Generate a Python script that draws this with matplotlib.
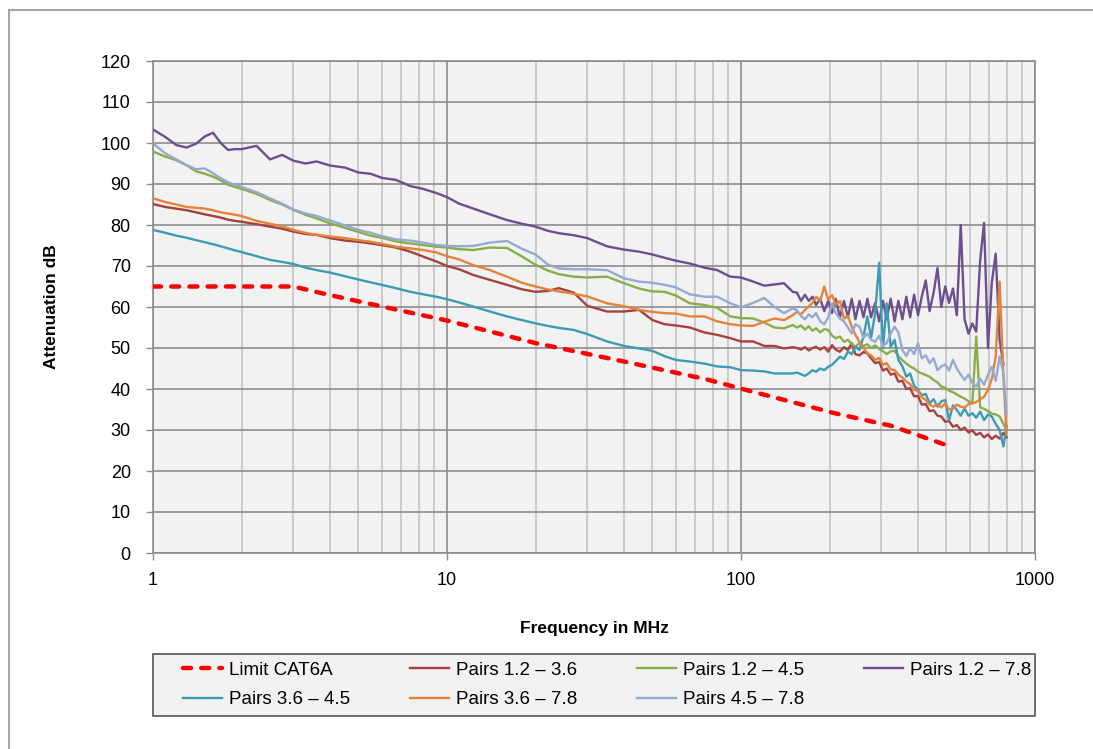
import numpy as np
import matplotlib
matplotlib.use("Agg")
import matplotlib.pyplot as plt
from matplotlib.patches import Rectangle

plt.rcParams["font.family"] = ["Liberation Sans", "DejaVu Sans"]

# ─── Data ────────────────────────────────────────────────────────────────────
# Shared sweep frequencies (MHz) for the measured pairs
freq_mhz = [
    1, 1.1, 1.2, 1.3, 1.4, 1.5, 1.6, 1.7, 1.8, 1.9, 2, 2.25, 2.5, 2.75, 3, 3.3,
    3.6, 4, 4.5, 5, 5.5, 6, 6.7, 7.5, 8.3, 9.2, 10, 11, 12.3, 14, 16, 18, 20,
    22, 24, 27, 30, 35, 40, 45, 50, 55, 60, 67, 75, 83, 92, 100, 110, 120, 130,
    140, 150,
    155, 160, 165, 170, 175, 180, 186, 192, 198, 204, 210, 217, 224, 231, 238,
    245, 253, 261, 269, 277, 286, 295, 304, 313, 323, 333, 343, 354, 365, 376,
    388, 400, 412, 425, 438, 452, 466, 480, 495, 510, 526, 542, 559, 576, 594,
    612, 631, 651, 671, 692, 713, 735, 758, 781, 800,
]

pairs_12_36 = [
    85.1, 84.4, 84.0, 83.6, 83.1, 82.6, 82.2, 81.8, 81.3, 81.0, 80.8, 80.2, 79.6,
    79.1, 78.4, 77.8, 77.6, 76.8, 76.2, 75.9, 75.5, 75.1, 74.5, 73.5, 72.3, 71.1,
    70.0, 69.2, 67.8, 66.6, 65.4, 64.3, 63.7, 63.9, 64.6, 63.5, 60.3, 58.9, 58.9,
    59.3, 56.8, 55.8, 55.5, 55.0, 53.8, 53.2, 52.4, 51.6, 51.6, 50.5, 50.5, 49.9,
    50.2,
    50.0, 49.6, 50.2, 49.4, 50.0, 50.3, 49.6, 50.2, 49.1, 50.7, 49.6, 49.1, 50.2,
    49.5, 51.2, 48.5, 48.2, 49.0, 48.7, 47.5, 46.3, 46.6, 44.5, 45.0, 43.5, 43.8,
    41.8, 42.0, 40.0, 40.2, 38.2, 38.3, 36.2, 36.3, 34.6, 34.8, 33.5, 33.3, 32.0,
    32.2, 30.8, 31.2, 30.0, 30.6, 29.4, 29.9, 28.8, 29.3, 28.2, 28.9, 27.8, 28.6,
    27.9, 29.3, 28.2,
]

pairs_12_45 = [
    97.9, 96.7, 95.8, 94.6, 93.1, 92.5, 91.8, 90.9, 89.8, 89.3, 88.8, 87.6, 86.1,
    85.0, 83.7, 82.5, 81.6, 80.4, 79.3, 78.3, 77.4, 76.9, 76.0, 75.5, 75.1, 74.7,
    74.5, 74.1, 73.9, 74.5, 74.4, 72.3, 70.3, 68.9, 68.0, 67.4, 67.2, 67.4, 65.8,
    64.5, 63.8, 63.7, 62.8, 60.9, 60.5, 59.8, 57.7, 57.3, 57.2, 56.2, 55.0, 54.8,
    55.6,
    55.0, 55.5, 54.5, 55.3, 54.2, 54.8, 53.8, 54.6, 54.4, 53.0, 52.4, 52.8, 51.5,
    52.0, 51.0, 50.3, 51.2, 50.5, 50.9, 50.0, 50.6, 49.8, 49.2, 48.5, 49.2, 49.3,
    48.0, 47.0, 46.2, 45.5, 45.0, 44.2, 43.8, 43.4, 43.0, 42.2, 41.6, 40.6, 40.3,
    39.6, 39.2, 38.7, 38.1, 37.7, 37.0, 36.5, 52.8, 35.5, 35.2, 34.6, 34.0, 33.8,
    33.3, 31.5, 30.0,
]

pairs_12_78 = [
    103.3, 101.5, 99.5, 98.9, 99.8, 101.6, 102.5, 100.0, 98.3, 98.5, 98.5, 99.3,
    96.0, 97.1, 95.7, 95.0, 95.5, 94.5, 94.0, 92.8, 92.5, 91.5, 91.0, 89.5, 88.8,
    87.8, 86.8, 85.2, 84.0, 82.6, 81.2, 80.3, 79.6, 78.6, 78.0, 77.5, 76.8, 74.8,
    74.0, 73.5, 72.8, 72.0, 71.3, 70.6, 69.6, 69.0, 67.4, 67.2, 66.2, 65.2, 65.5,
    65.8, 63.7,
    63.5, 61.5, 63.0, 61.5, 62.5, 60.5, 62.0, 59.0, 61.5, 58.5, 62.0, 57.5, 61.5,
    57.5, 62.0, 57.0, 61.5, 57.5, 62.0, 57.5, 61.0, 56.5, 61.5, 57.0, 62.0, 56.5,
    61.5, 57.0, 62.5, 57.5, 63.0, 58.0, 62.5, 66.5, 59.0, 63.5, 69.5, 60.0, 65.0,
    61.0, 64.5, 58.0, 80.0, 57.0, 53.5, 56.0, 54.0, 71.5, 80.5, 50.0, 66.0, 73.0,
    52.0, 46.0, np.nan,
]

pairs_36_45 = [
    78.8, 78.1, 77.4, 76.9, 76.3, 75.8, 75.3, 74.8, 74.3, 73.8, 73.4, 72.4, 71.5,
    71.0, 70.5, 69.6, 69.0, 68.4, 67.5, 66.7, 66.0, 65.4, 64.6, 63.7, 63.1, 62.5,
    61.9, 61.1, 60.1, 58.9, 57.7, 56.8, 56.0, 55.4, 54.9, 54.4, 53.4, 51.6, 50.5,
    49.9, 49.3, 48.0, 47.1, 46.7, 46.2, 45.5, 45.3, 44.6, 44.5, 44.3, 43.8, 43.8,
    43.8,
    44.0, 43.6, 43.2, 43.8, 44.6, 44.2, 45.0, 44.6, 45.4, 45.9, 46.8, 47.9, 47.3,
    49.1, 48.5, 50.3, 49.5, 52.8, 57.7, 52.5, 58.5, 70.8, 50.0, 60.9, 50.3, 52.0,
    47.1, 45.5, 43.0, 43.8, 40.8, 39.8, 38.5, 38.8, 36.5, 37.5, 35.7, 37.0, 37.3,
    32.4, 36.0, 34.9, 33.5, 35.2, 33.5, 34.1, 33.0, 34.5, 32.4, 33.8, 33.3, 31.5,
    30.0, 26.0, 31.0,
]

pairs_36_78 = [
    86.5, 85.6, 85.0, 84.4, 84.2, 84.0, 83.6, 83.1, 82.8, 82.5, 82.2, 81.0, 80.3,
    79.7, 78.8, 78.1, 77.6, 77.2, 76.8, 76.3, 75.9, 75.4, 74.7, 74.3, 73.9, 73.3,
    72.4, 71.6, 70.2, 69.0, 67.4, 65.9, 65.0, 64.3, 63.8, 63.2, 62.6, 60.9, 60.2,
    59.3, 58.8, 58.5, 58.4, 57.7, 57.7, 56.5, 55.8, 55.5, 55.4, 56.4, 57.2, 56.8,
    58.0,
    58.8, 58.2, 59.3, 60.2, 61.0, 62.5, 61.5, 65.0, 61.8, 62.9, 60.5, 61.5, 57.2,
    57.8, 55.2, 53.2, 51.5, 50.0, 48.7, 48.2, 47.1, 47.6, 45.9, 46.3, 44.8, 44.6,
    43.5, 42.8, 41.8, 41.2, 39.8, 39.5, 38.0, 37.3, 36.2, 35.7, 36.3, 35.5, 36.5,
    35.0, 35.3, 36.2, 35.7, 35.5, 36.3, 36.5, 36.8, 37.5, 38.1, 39.8, 42.5, 47.9,
    66.2, 43.0, 29.0,
]

pairs_45_78 = [
    99.9, 97.5, 96.0, 94.6, 93.6, 93.8, 92.6, 91.4, 90.4, 89.8, 89.3, 88.0, 86.5,
    85.2, 83.8, 82.8, 82.2, 81.1, 79.9, 78.8, 78.1, 77.3, 76.5, 76.2, 75.7, 75.1,
    74.9, 74.8, 74.9, 75.7, 76.1, 74.2, 72.8, 70.4, 69.4, 69.2, 69.2, 69.0, 67.0,
    66.2, 65.9, 65.4, 64.8, 63.1, 62.5, 62.5, 60.9, 59.9, 61.0, 62.2, 60.0, 58.5,
    59.7,
    59.2, 57.8, 57.0, 58.2, 57.5, 58.5, 56.5, 55.8, 57.5, 60.9, 58.5, 57.2, 56.5,
    55.0, 53.6, 55.8, 55.2, 52.5, 53.5, 52.0, 51.5, 53.0, 50.5, 51.2, 53.5, 55.2,
    53.8, 49.5, 48.0, 50.0, 48.5, 51.2, 47.5, 48.2, 46.3, 47.5, 44.6, 45.5, 46.0,
    44.5, 47.1, 45.0, 43.5, 42.2, 43.5, 41.5, 40.6, 42.5, 41.0, 43.5, 45.4, 42.0,
    47.9, 43.9, 34.0,
]

# CAT6A limit line
limit_freq = [1, 3, 4, 6.4, 10, 20, 40, 76, 100, 208, 325, 500]
limit_db = [65, 65, 62.9, 59.7, 56.7, 51.2, 46.7, 42.4, 40.1, 34.1, 31.0, 26.3]

series_labels = ["Pairs 1.2 – 3.6", "Pairs 1.2 – 4.5", "Pairs 1.2 – 7.8",
                 "Pairs 3.6 – 4.5", "Pairs 3.6 – 7.8", "Pairs 4.5 – 7.8"]
series_colors = ["#a5413f", "#8bad4a", "#6b4f8e", "#3d9bb5", "#e4843a", "#94aad0"]
series_values = [pairs_12_36, pairs_12_45, pairs_12_78,
                 pairs_36_45, pairs_36_78, pairs_45_78]

y_ticks = list(range(0, 121, 10))
x_ticks = [1, 10, 100, 1000]

# ─── Figure ──────────────────────────────────────────────────────────────────
W, H = 1093, 749
fig = plt.figure(figsize=(W / 100, H / 100), dpi=100)
# outer chart border (cut at the right and bottom in the original)
fig.patches.append(Rectangle((9 / W, -0.05), 1.2, 1.05 - 10 / H,
                             transform=fig.transFigure, fill=False,
                             edgecolor="#a6a6a6", linewidth=1.5))
# legend box
fig.patches.append(Rectangle((153 / W, 1 - 716 / H), 882 / W, 62 / H,
                             transform=fig.transFigure, facecolor="#f2f2f2",
                             edgecolor="#555555", linewidth=1.2))

ax = fig.add_axes([153 / W, 1 - 553 / H, 882 / W, 492 / H])
ax.set_facecolor("#f2f2f2")

lines = {}
lines["Limit CAT6A"], = ax.plot(limit_freq, limit_db, color="#ff0000", lw=3.2,
                                dashes=(1.8, 2.3), dash_capstyle="round",
                                solid_capstyle="round", zorder=3)
for label, vals, col in zip(series_labels, series_values, series_colors):
    lines[label], = ax.plot(freq_mhz, vals, color=col, lw=1.7, zorder=3)

ax.set_xscale("log")
ax.set_xlim(1, 1000)
ax.set_ylim(0, 120)
ax.set_xticks(x_ticks)
ax.set_xticklabels([str(t) for t in x_ticks])
ax.set_yticks(y_ticks)
ax.minorticks_on()
ax.yaxis.set_tick_params(which="minor", left=False)
ax.xaxis.set_tick_params(which="minor", bottom=False)
ax.tick_params(axis="both", which="major", labelsize=13, length=5,
               color="#8c8c8c", width=1)
ax.tick_params(axis="y", pad=11)
ax.tick_params(axis="x", pad=9)

ax.grid(True, which="major", axis="both", color="#8c8c8c", lw=1.2)
ax.grid(True, which="minor", axis="x", color="#c4c4c4", lw=1.2)
ax.set_axisbelow(True)
for sp in ax.spines.values():
    sp.set_color("#8c8c8c")
    sp.set_linewidth(1.2)

ax.set_xlabel("Frequency in MHz", fontsize=12.5, fontweight="bold", va="center")
ax.xaxis.set_label_coords(0.5, -(628 - 553) / 492)
ax.set_ylabel("Attenuation dB", fontsize=12.5, fontweight="bold", va="center")
ax.yaxis.set_label_coords((52 - 153) / 882, 0.5)

# legend: column-major order so rows read like the original
order = ["Limit CAT6A", "Pairs 3.6 – 4.5", "Pairs 1.2 – 3.6", "Pairs 3.6 – 7.8",
         "Pairs 1.2 – 4.5", "Pairs 4.5 – 7.8", "Pairs 1.2 – 7.8"]
leg = fig.legend([lines[k] for k in order], order, ncol=4, mode="expand",
                 loc="center", fontsize=13.5, frameon=False,
                 bbox_to_anchor=(183 / W, 1 - 716 / H, (1031 - 183) / W, 62 / H),
                 handlelength=2.1, handletextpad=0.35, borderpad=0,
                 labelspacing=0.68, borderaxespad=0)
leg.set_zorder(5)

fig.savefig("out.png", dpi=100)
